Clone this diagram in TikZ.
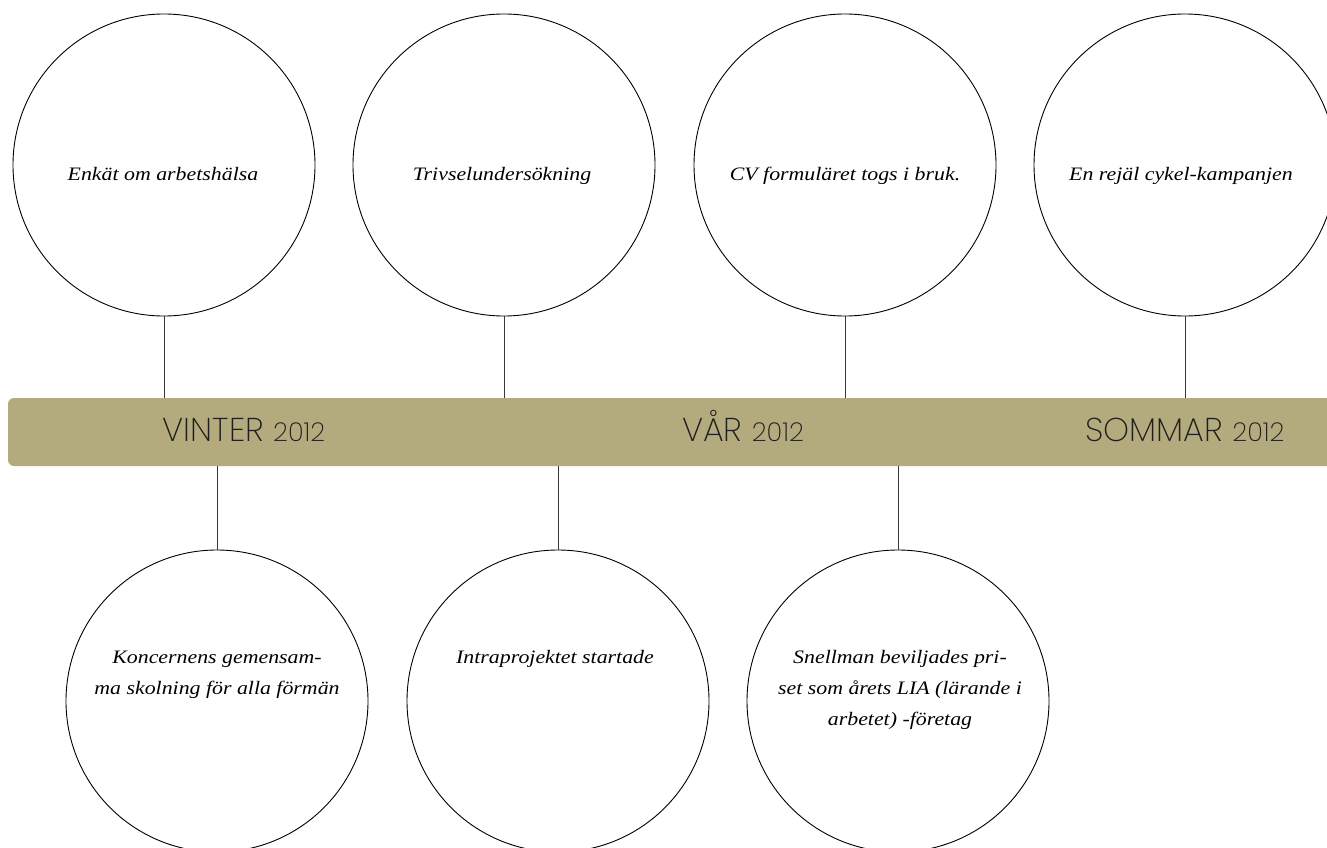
\documentclass[tikz,border=0pt]{standalone}
\usepackage{fontspec}
\newfontfamily\eventfont[FakeStretch=1.15]{Liberation Serif}
\newfontfamily\seasonfont{Poppins ExtraLight}
\definecolor{barfill}{RGB}{179,171,126}
\definecolor{inkdark}{RGB}{30,30,28}
\definecolor{stemgray}{RGB}{55,55,55}
\newcommand{\yr}[1]{{\fontsize{26}{26}\selectfont #1}}
\tikzset{
  event/.style={circle, draw=black, line width=0.9pt, minimum size=302pt, inner sep=0pt},
  eventtext/.style={font=\eventfont\itshape\fontsize{19}{31}\selectfont, text=black, align=center, inner sep=0pt},
  season/.style={font=\seasonfont\fontsize{33}{33}\selectfont, text=inkdark, anchor=base, inner sep=0pt},
  stem/.style={draw=stemgray, line width=1pt},
  timeline/.style={rectangle, rounded corners=6pt, fill=barfill, draw=none, minimum width=1332pt, minimum height=68pt, inner sep=0pt}
}
\begin{document}
\begin{tikzpicture}[x=1pt, y=-1pt]
\useasboundingbox (0,0) rectangle (1327,848);
\clip (0,0) rectangle (1327,848);

% timeline bar
\node[timeline] (bar) at (674,432) {};

% events above the bar
\node[event] (t1) at (164,165) {};
\node[event] (t2) at (504,165) {};
\node[event] (t3) at (845,165) {};
\node[event] (t4) at (1185,165) {};

% events below the bar
\node[event] (b1) at (217,701) {};
\node[event] (b2) at (558,701) {};
\node[event] (b3) at (898,701) {};

% stems
\foreach \c in {t1,t2,t3,t4} \draw[stem] (\c.south) -- (\c.south |- bar.north);
\foreach \c in {b1,b2,b3} \draw[stem] (\c.north) -- (\c.north |- bar.south);

% event texts (base anchor sits on the last line)
\node[eventtext, anchor=base] (e1) at (163,180) {Enkät om arbetshälsa};
\node[eventtext, anchor=base] (e2) at (502,180) {Trivselundersökning};
\node[eventtext, anchor=base] (e3) at (845,180) {CV formuläret togs i bruk.};
\node[eventtext, anchor=base] (e4) at (1181,180) {En rejäl cykel-kampanjen};
\node[eventtext, anchor=base] (e5) at (217,694) {Koncernens gemensam-\\ma skolning för alla förmän};
\node[eventtext, anchor=base] (e6) at (555,663) {Intraprojektet startade};
\node[eventtext, anchor=base] (e7) at (900,725) {Snellman beviljades pri-\\set som årets LIA (lärande i\\arbetet) -företag};

% season labels on the bar
\node[season] (s1) at (244,441) {VINTER \yr{2012}};
\node[season] (s2) at (743,441) {VÅR \yr{2012}};
\node[season] (s3) at (1185,441) {SOMMAR \yr{2012}};
\end{tikzpicture}
\end{document}
